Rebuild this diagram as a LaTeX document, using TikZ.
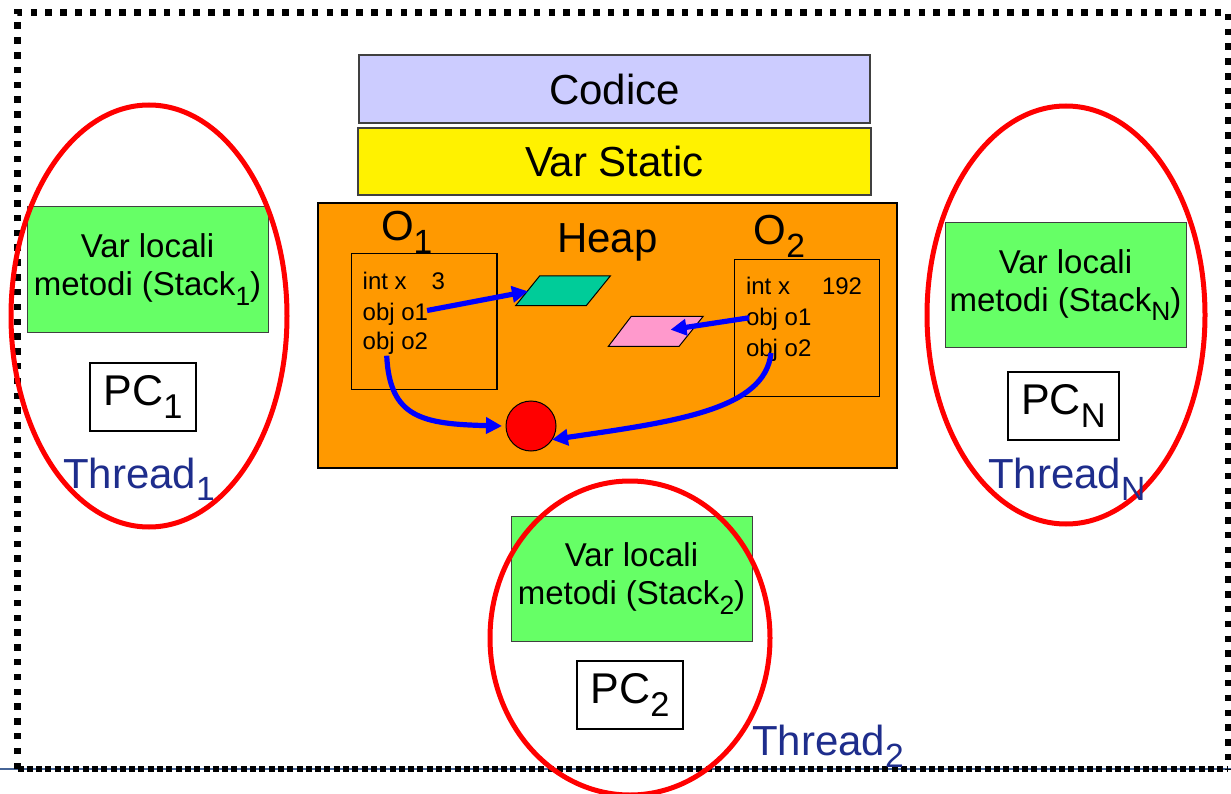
\documentclass[tikz,border=0pt]{standalone}
\usepackage{fontspec}
\setmainfont{Liberation Sans}
\usepackage{graphicx}
\usetikzlibrary{arrows.meta,shapes.geometric,calc}
\newcommand{\sbs}[1]{\raisebox{-0.3em}{\scalebox{0.8}{#1}}}
\newcommand{\setfs}[2]{\fontsize{#1}{#2}\selectfont}
\definecolor{lav}{HTML}{CCCCFF}
\definecolor{heapor}{HTML}{FF9900}
\definecolor{stkgreen}{HTML}{66FF66}
\definecolor{objgreen}{HTML}{00CC99}
\definecolor{objpink}{HTML}{FF99CC}
\definecolor{thblue}{RGB}{30,45,140}
\definecolor{linblue}{RGB}{70,100,150}
\definecolor{dgray}{RGB}{64,64,64}
\begin{document}
\begin{tikzpicture}[x=1pt,y=-1pt,
  every node/.style={inner sep=0pt,outer sep=0pt},
  bigbox/.style={draw=dgray,line width=1.5pt,rectangle,font=\setfs{42}{48}},
  heapbox/.style={draw=black,line width=1.2pt,rectangle,fill=heapor},
  objbox/.style={draw=black,line width=1.2pt,rectangle},
  bigtxt/.style={anchor=base west,font=\setfs{42}{48}},
  codetxt/.style={anchor=base west,font=\setfs{24}{28}},
  stackbox/.style={draw=dgray,line width=1pt,rectangle,fill=stkgreen,align=center,font=\setfs{33}{38},minimum width=241pt,minimum height=125pt},
  pcbox/.style={draw=black,line width=1.2pt,rectangle,fill=white,font=\setfs{43}{48},minimum height=68pt},
  thellipse/.style={draw=red,line width=5pt,ellipse},
  thtxt/.style={anchor=base west,font=\setfs{42}{48},text=thblue},
  ptr/.style={draw=blue,line width=5.2pt,-{Triangle[length=16pt,width=16pt]}},
  para/.style={draw=black,line width=1pt}]
\useasboundingbox (0,0) rectangle (1231,794);
% outer border
\draw[linblue,line width=1.5pt] (0,769) -- (1231,769);
\draw[line width=6.5pt,dash pattern=on 6.5pt off 8.3pt] (17.5,769) -- (17.5,12.5) -- (1228,12.5) -- (1228,769);
\draw[line width=6pt,dash pattern=on 6pt off 3.3pt] (17.5,769) -- (1228,769);
% central blocks
\node[bigbox,fill=lav,minimum width=511pt,minimum height=68pt] (cod) at (614.5,89) {Codice};
\node[bigbox,fill=yellow,minimum width=513pt,minimum height=67pt] (vst) at (614.5,161.5) {Var Static};
\node[heapbox,minimum width=579pt,minimum height=265pt] (heap) at (607.5,335.5) {};
\node[bigtxt] (o1lab) at (381,241) {O\sbs{1}};
\node[bigtxt] (heaplab) at (557,253) {Heap};
\node[bigtxt] (o2lab) at (753.6,245) {O\sbs{2}};
\node[objbox,minimum width=145.4pt,minimum height=136pt] (o1) at (424.3,321.7) {};
\node[objbox,minimum width=145.2pt,minimum height=136.6pt] (o2) at (807.1,328) {};
\node[codetxt] (o1a) at (362.7,290) {int x\hspace{25pt}3};
\node[codetxt] (o1b) at (362.7,320.7) {obj o1};
\node[codetxt] (o1c) at (362.7,349.7) {obj o2};
\node[codetxt] (o2a) at (746,294.7) {int x\hspace{32pt}192};
\node[codetxt] (o2b) at (746,325) {obj o1};
\node[codetxt] (o2c) at (746,356) {obj o2};
\draw[para,fill=objgreen] (515.6,305.7) -- (539.6,276) -- (610.3,276) -- (586.2,305.7) -- cycle;
\draw[para,fill=objpink] (608.4,346.3) -- (631.3,316.3) -- (703.2,316.3) -- (679.1,346.3) -- cycle;
\coordinate (gtip) at (528,291.3);
\coordinate (ptip) at (670.5,329.7);
\node[circle,draw=black,line width=1pt,fill=red,minimum size=50pt] (rc) at (531,426) {};
% pointers
\draw[ptr] ([xshift=-1pt,yshift=4pt]o1b.east) -- (gtip);
\draw[ptr] ([xshift=3pt,yshift=1pt]o2b.west) -- (ptip);
\draw[ptr] ([xshift=24pt,yshift=-1pt]o1c.south west) .. controls +(3,62) and +(-80,-2) .. ([xshift=-4pt]rc.west);
\draw[ptr] ([xshift=25pt,yshift=8pt]o2c.south west) .. controls +(-6,57) and +(123,-18) .. (rc.-33);
% threads
\node[stackbox] (st1) at (147.5,269.5) {\raisebox{0pt}[0pt][0pt]{}\rule{0pt}{0pt}Var locali\\metodi (Stack\sbs{1})};
\node[pcbox,minimum width=106pt] (pc1) at (143,397) {PC\sbs{1}};
\node[stackbox] (stn) at (1065.5,285) {Var locali\\metodi (Stack\sbs{N})};
\node[pcbox,minimum width=111pt] (pcn) at (1063.5,406) {PC\sbs{N}};
\node[stackbox] (st2) at (631.5,578.5) {Var locali\\metodi (Stack\sbs{2})};
\node[pcbox,minimum width=106pt] (pc2) at (630,695) {PC\sbs{2}};
\node[thellipse,minimum width=276pt,minimum height=422pt] (e1) at (149,316) {};
\node[thellipse,minimum width=278pt,minimum height=418pt] (en) at (1066,315) {};
\node[thellipse,minimum width=280pt,minimum height=314pt] (e2) at (630,638) {};
\node[thtxt] (t1) at (63,488) {Thread\sbs{1}};
\node[thtxt] (tn) at (988,488) {Thread\sbs{N}};
\node[thtxt] (t2) at (752,755) {Thread\sbs{2}};
\end{tikzpicture}
\end{document}
